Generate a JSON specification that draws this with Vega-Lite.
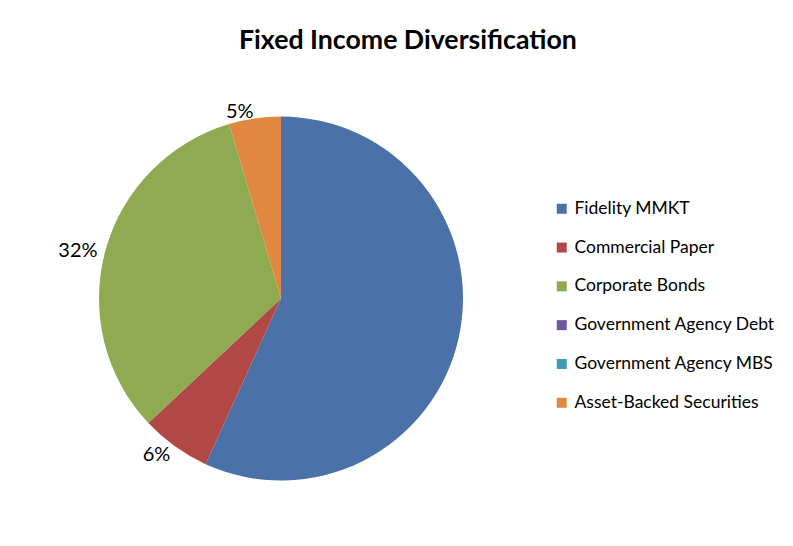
{
  "$schema": "https://vega.github.io/schema/vega-lite/v6.json",
  "width": 528,
  "height": 541,
  "autosize": "none",
  "padding": {"left": 17, "top": 5, "right": 248, "bottom": 0},
  "background": "white",
  "title": {
    "text": "Fixed Income Diversification",
    "anchor": "start",
    "frame": "group",
    "dx": 222,
    "offset": -50,
    "font": "Lato",
    "fontSize": 26.7,
    "fontWeight": "bold",
    "color": "#000000"
  },
  "data": {
    "values": [
      {"idx": 1, "asset": "Fidelity MMKT", "share": 56.8, "label": ""},
      {"idx": 2, "asset": "Commercial Paper", "share": 6.2, "label": "6%"},
      {"idx": 3, "asset": "Corporate Bonds", "share": 32.4, "label": "32%"},
      {"idx": 4, "asset": "Government Agency Debt", "share": 0, "label": ""},
      {"idx": 5, "asset": "Government Agency MBS", "share": 0, "label": ""},
      {"idx": 6, "asset": "Asset-Backed Securities", "share": 4.6, "label": "5%"}
    ]
  },
  "encoding": {
    "theta": {"field": "share", "type": "quantitative", "stack": true},
    "order": {"field": "idx", "type": "quantitative"}
  },
  "layer": [
    {
      "mark": {"type": "arc", "outerRadius": 182, "yOffset": 23, "stroke": null},
      "encoding": {
        "color": {
          "field": "asset",
          "type": "nominal",
          "title": null,
          "scale": {
            "domain": [
              "Fidelity MMKT",
              "Commercial Paper",
              "Corporate Bonds",
              "Government Agency Debt",
              "Government Agency MBS",
              "Asset-Backed Securities"
            ],
            "range": ["#4a72a8", "#b24845", "#8faa50", "#7056a0", "#3c9cb5", "#e08840"]
          },
          "legend": {
            "orient": "none",
            "legendX": 536,
            "legendY": 195,
            "symbolType": "square",
            "symbolSize": 100,
            "symbolStrokeWidth": 0,
            "labelFont": "Lato",
            "labelFontSize": 17.5,
            "labelColor": "#000000",
            "labelOffset": 4,
            "labelLimit": 300,
            "rowPadding": 19.8
          }
        }
      }
    },
    {
      "mark": {
        "type": "text",
        "radius": 190,
        "yOffset": 25,
        "align": "right",
        "baseline": "middle",
        "font": "Lato",
        "fontSize": 20,
        "color": "#000000"
      },
      "encoding": {
        "text": {"field": "label", "type": "nominal"}
      }
    }
  ],
  "config": {
    "view": {"stroke": null}
  }
}
